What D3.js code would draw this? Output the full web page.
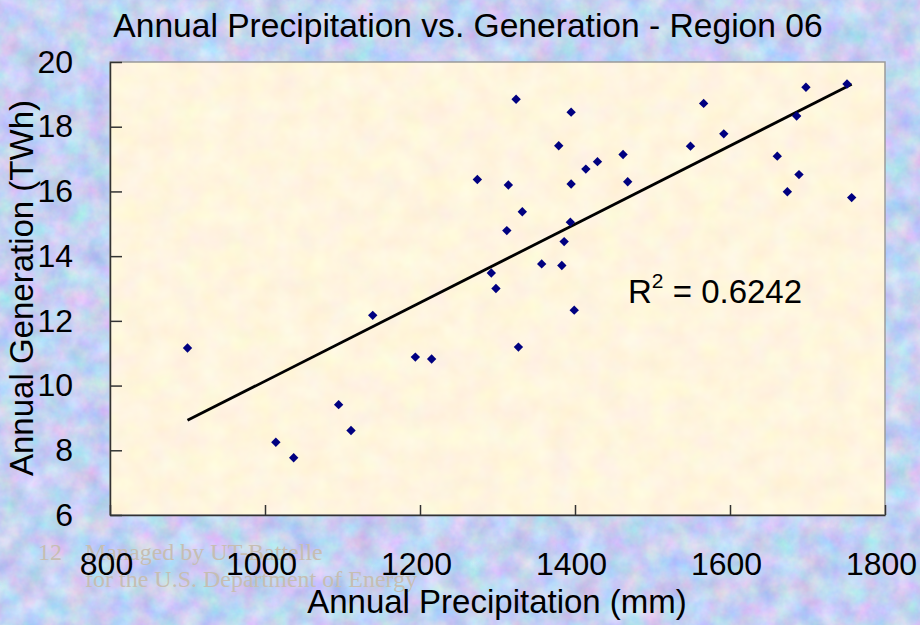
<!DOCTYPE html>
<html lang="en">
<head>
<meta charset="UTF-8">
<title>Annual Precipitation vs. Generation - Region 06</title>
<script src="https://d3js.org/d3.v7.min.js"></script>
<style>
  html, body { margin: 0; padding: 0; }
  body { width: 920px; height: 625px; overflow: hidden; font-family: "Liberation Sans", Arial, sans-serif; }
  .axis text { font-family: "Liberation Sans", Arial, sans-serif; font-size: 32px; fill: #000; }
  .axis path, .axis line { stroke: #333; stroke-width: 1.5px; }
</style>
</head>
<body>
<svg id="chart"></svg>
<script>
// annual precipitation (mm) and generation (TWh)
const precipitation = [1324, 1395, 1379, 1462, 1429, 1414, 1274, 1314, 1395, 1468,
                       1332, 1394, 1312, 1386, 1698, 1751, 1566, 1686, 1592, 1549,
                       1661, 1689, 1674, 1757, 900, 1139, 1095, 1111, 1014, 1037,
                       1357, 1383, 1292, 1298, 1399, 1194, 1215, 1327];
const generation = [18.85, 18.45, 17.41, 17.14, 16.92, 16.69, 16.37, 16.20, 16.23, 16.30,
                    15.37, 15.05, 14.79, 14.45, 19.22, 19.32, 18.72, 18.33, 17.78, 17.40,
                    17.09, 16.52, 15.99, 15.81, 11.16, 12.17, 9.41, 8.61, 8.25, 7.77,
                    13.76, 13.71, 13.48, 13.00, 12.33, 10.88, 10.82, 11.19];
const xTicks = [800, 1000, 1200, 1400, 1600, 1800];
const yTicks = [6, 8, 10, 12, 14, 16, 18, 20];
const rSquared = "0.6242";

const width = 920, height = 625;
const margin = {top: 62, right: 35, bottom: 110, left: 110};

const svg = d3.select("#chart")
    .attr("width", width)
    .attr("height", height);

const defs = svg.append("defs");

// mottled blue slide background
const bgTex = defs.append("filter").attr("id", "bgTex")
    .attr("x", 0).attr("y", 0).attr("width", "100%").attr("height", "100%")
    .attr("color-interpolation-filters", "sRGB");
bgTex.append("feTurbulence").attr("type", "fractalNoise")
    .attr("baseFrequency", "0.045").attr("numOctaves", 4).attr("seed", 7);
bgTex.append("feColorMatrix").attr("type", "matrix")
    .attr("values", "0.36 0 0 0 0.59  0 0.28 0 0 0.68  0 0 0.16 0 0.87  0 0 0 0 1");

// faint parchment texture for the plot area
const plotTex = defs.append("filter").attr("id", "plotTex")
    .attr("x", 0).attr("y", 0).attr("width", "100%").attr("height", "100%")
    .attr("color-interpolation-filters", "sRGB");
plotTex.append("feTurbulence").attr("type", "fractalNoise")
    .attr("baseFrequency", "0.04").attr("numOctaves", 3).attr("seed", 3);
plotTex.append("feColorMatrix").attr("type", "matrix")
    .attr("values", "0.04 0 0 0 0.98  0 0.07 0 0 0.925  0 0 0.1 0 0.82  0 0 0 0 1");

svg.append("rect")
    .attr("width", width).attr("height", height)
    .attr("filter", "url(#bgTex)");

const x = d3.scaleLinear()
    .domain([800, 1800])
    .range([margin.left, width - margin.right]);

const y = d3.scaleLinear()
    .domain([6, 20])
    .range([height - margin.bottom, margin.top]);

// watermark footer (sits under the tick labels)
const foot = svg.append("g")
    .attr("font-family", "'Liberation Serif', 'Times New Roman', serif")
    .attr("font-size", 24)
    .attr("fill", "#c6beb2");
foot.append("text").attr("x", 38).attr("y", 560).text("12");
foot.append("text").attr("x", 85).attr("y", 560).text("Managed by UT-Battelle");
foot.append("text").attr("x", 85).attr("y", 587).text("for the U.S. Department of Energy");

// plot area
svg.append("rect")
    .attr("x", x(800)).attr("y", y(20))
    .attr("width", x(1800) - x(800))
    .attr("height", y(6) - y(20))
    .attr("filter", "url(#plotTex)");
svg.append("rect")
    .attr("x", x(800)).attr("y", y(20))
    .attr("width", x(1800) - x(800))
    .attr("height", y(6) - y(20))
    .attr("fill", "none")
    .attr("stroke", "#9a9a9a")
    .attr("stroke-width", 1.5);

// axes, ticks pointing inward
const xAxis = d3.axisBottom(x)
    .tickValues(xTicks)
    .tickFormat(d3.format("d"))
    .tickSizeInner(-10)
    .tickSizeOuter(0)
    .tickPadding(37);

const yAxis = d3.axisLeft(y)
    .tickValues(yTicks)
    .tickFormat(d3.format("d"))
    .tickSizeInner(-12)
    .tickSizeOuter(0)
    .tickPadding(37);

svg.append("g")
    .attr("class", "axis")
    .attr("transform", `translate(0,${y(6)})`)
    .call(xAxis)
    .selectAll("text").attr("dx", -4);

svg.append("g")
    .attr("class", "axis")
    .attr("transform", `translate(${x(800)},0)`)
    .call(yAxis);

// linear trendline (least squares) across the data range
const n = precipitation.length;
const mx = d3.mean(precipitation), my = d3.mean(generation);
let sxy = 0, sxx = 0;
for (let i = 0; i < n; i++) {
    sxy += (precipitation[i] - mx) * (generation[i] - my);
    sxx += (precipitation[i] - mx) ** 2;
}
const slope = sxy / sxx;
const intercept = my - slope * mx;
const xr = d3.extent(precipitation);

svg.append("line")
    .attr("x1", x(xr[0])).attr("y1", y(intercept + slope * xr[0]))
    .attr("x2", x(xr[1])).attr("y2", y(intercept + slope * xr[1]))
    .attr("stroke", "#000")
    .attr("stroke-width", 2.8);

// data points: navy diamonds
const diamond = d3.symbol().type(d3.symbolSquare).size(44);
svg.append("g")
    .selectAll("path")
    .data(precipitation.map((p, i) => [p, generation[i]]))
    .join("path")
    .attr("d", diamond)
    .attr("transform", d => `translate(${x(d[0])},${y(d[1])}) rotate(45)`)
    .attr("fill", "#000080");

// R squared label
const r2 = svg.append("text")
    .attr("x", 628).attr("y", 303)
    .attr("font-size", 33)
    .attr("fill", "#000");
r2.append("tspan").text("R");
r2.append("tspan").attr("dy", -15).attr("font-size", 21).text("2");
r2.append("tspan").attr("dy", 15).text(" = " + rSquared);

// titles
svg.append("text")
    .attr("x", 468).attr("y", 37)
    .attr("text-anchor", "middle")
    .attr("font-size", 33.6)
    .text("Annual Precipitation vs. Generation - Region 06");

svg.append("text")
    .attr("x", 497).attr("y", 613)
    .attr("text-anchor", "middle")
    .attr("font-size", 33)
    .text("Annual Precipitation (mm)");

svg.append("text")
    .attr("transform", "translate(33,288) rotate(-90)")
    .attr("text-anchor", "middle")
    .attr("font-size", 33)
    .text("Annual Generation (TWh)");
</script>
</body>
</html>
